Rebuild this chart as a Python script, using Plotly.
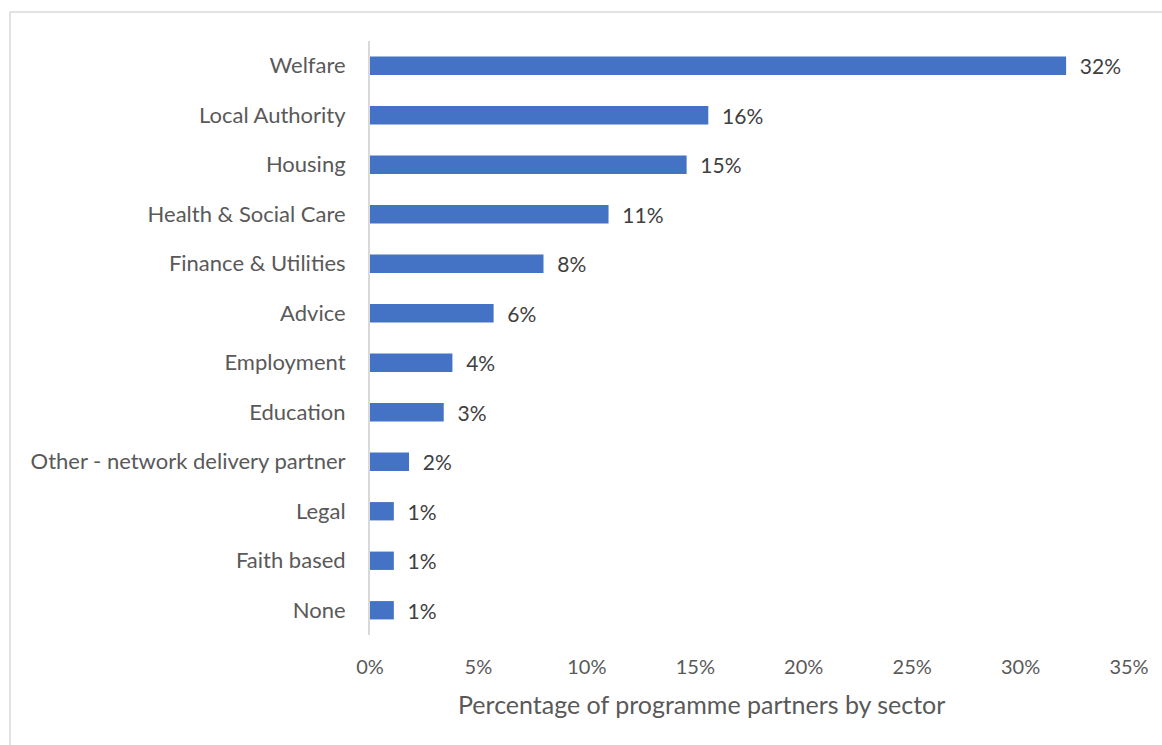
import plotly.graph_objects as go

# Share of programme partners in each sector (fraction of total)
sectors = [
    "Welfare", "Local Authority", "Housing", "Health & Social Care",
    "Finance & Utilities", "Advice", "Employment", "Education",
    "Other - network delivery partner", "Legal", "Faith based", "None",
]
shares = [0.321, 0.156, 0.146, 0.110, 0.080, 0.057, 0.038, 0.034, 0.018, 0.011, 0.011, 0.011]
tick_vals = [0, 0.05, 0.10, 0.15, 0.20, 0.25, 0.30, 0.35]
tick_text = ["0%", "5%", "10%", "15%", "20%", "25%", "30%", "35%"]
x_title = "Percentage of programme partners by sector"

W, H = 1162, 745
L, R, T, B = 370, 33, 41, 110
pw, ph = W - L - R, H - T - B
FONT = "Lato"

fig = go.Figure(go.Bar(
    x=shares,
    y=sectors,
    orientation="h",
    width=0.37,
    marker=dict(color="#4472C4", line=dict(width=0)),
    texttemplate="  %{x:.0%}",
    textposition="outside",
    constraintext="none",
    textfont=dict(family=FONT, size=21, color="#404040"),
    cliponaxis=False,
    hoverinfo="skip",
))

fig.update_layout(
    width=W, height=H,
    margin=dict(l=L, r=R, t=T, b=B, pad=0),
    paper_bgcolor="white",
    plot_bgcolor="white",
    font=dict(family=FONT, size=21, color="#595959"),
    showlegend=False,
    xaxis=dict(
        range=[0, 0.35],
        tickvals=tick_vals,
        ticktext=tick_text,
        showgrid=False,
        zeroline=False,
        showline=False,
        ticks="",
        ticklabelstandoff=18,
        tickfont=dict(family=FONT, size=20, color="#595959"),
    ),
    yaxis=dict(
        autorange="reversed",
        showgrid=False,
        zeroline=False,
        showline=True,
        linecolor="#D9D9D9",
        linewidth=2,
        ticks="",
        ticklabelstandoff=18,
        tickfont=dict(family=FONT, size=22, color="#595959"),
    ),
    # axis title centred under the whole chart frame
    annotations=[dict(
        text=x_title, xref="paper", yref="paper",
        x=(701 - L) / pw, y=-(704 - (T + ph)) / ph,
        xanchor="center", yanchor="middle", showarrow=False,
        font=dict(family=FONT, size=25, color="#595959"),
    )],
    shapes=[dict(
        type="rect", xref="paper", yref="paper",
        x0=(10 - L) / pw, x1=(W + 5 - L) / pw,
        y0=-(H + 5 - T - ph) / ph, y1=1 + (T - 12) / ph,
        line=dict(color="#D9D9D9", width=1.5),
        fillcolor="rgba(0,0,0,0)",
        layer="below",
    )],
)

fig.write_html("out.html")
